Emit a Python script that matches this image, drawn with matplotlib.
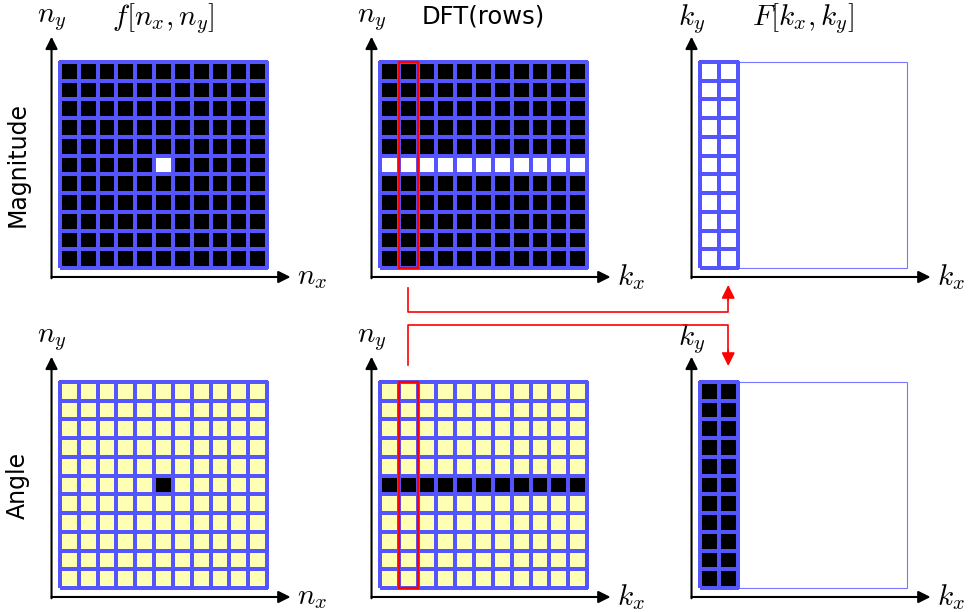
import numpy as np
import matplotlib
matplotlib.use("Agg")
import matplotlib.pyplot as plt
from matplotlib.colors import ListedColormap
from matplotlib.patches import Rectangle

plt.rcParams['mathtext.fontset'] = 'cm'

N = 11
center = 5
picked_col = 1      # column highlighted in DFT(rows)
shown_cols = 2      # columns of F already computed

# magnitude / angle "images" (1 = non-zero)
f_mag = np.zeros((N, N)); f_mag[center, center] = 1
f_ang = np.zeros((N, N)); f_ang[center, center] = 1
rows_mag = np.zeros((N, N)); rows_mag[center, :] = 1
rows_ang = np.zeros((N, N)); rows_ang[center, :] = 1
F_mag = np.ones((N, shown_cols))
F_ang = np.ones((N, shown_cols))

row_labels = ['Magnitude', 'Angle']
titles = [r'$f[n_x,n_y]$', 'DFT(rows)', r'$F[k_x,k_y]$']
x_labels = [r'$n_x$', r'$k_x$', r'$k_x$']
y_labels = [r'$n_y$', r'$n_y$', r'$k_y$']

mag_cmap = ListedColormap(['black', 'white'])
ang_cmap = ListedColormap(['#ffffb3', 'black'])
blue = '#5555ff'

W, H = 968, 612
fig = plt.figure(figsize=(W / 100, H / 100), dpi=100)

grid_x = [60, 380, 700]
grid_y = [62, 382]
gw, gh = 207, 206


def panel(px, py, data, cmap, col, row):
    ax = fig.add_axes([px / W, 1 - (py + gh) / H, gw / W, gh / H])
    ax.set_xlim(0, N)
    ax.set_ylim(0, N)
    ax.axis('off')
    ncols = data.shape[1]
    ax.pcolormesh(np.arange(ncols + 1), np.arange(N + 1), data[::-1], cmap=cmap,
                  vmin=0, vmax=1, edgecolors=blue, linewidth=1.6, clip_on=False)
    if ncols < N:
        ax.add_patch(Rectangle((0, 0), N, N, fill=False, ec=blue, lw=0.8,
                               alpha=0.8, clip_on=False))
    # axes arrows
    ax.annotate('', xy=(12.25, -0.48), xytext=(-0.45, -0.48),
                arrowprops=dict(arrowstyle='-|>', color='black', lw=1.5,
                                mutation_scale=18, shrinkA=0, shrinkB=0),
                annotation_clip=False)
    ax.annotate('', xy=(-0.45, 12.35), xytext=(-0.45, -0.55),
                arrowprops=dict(arrowstyle='-|>', color='black', lw=1.5,
                                mutation_scale=18, shrinkA=0, shrinkB=0),
                annotation_clip=False)
    ax.text(12.6, -0.5, x_labels[col], fontsize=21, ha='left', va='center')
    ax.text(-0.45, 13.3, y_labels[col], fontsize=21, ha='center', va='center')
    if row == 0:
        if col == 1:
            ax.text(5.5, 13.45, titles[col], fontsize=17.5, ha='center', va='center')
        else:
            ax.text(5.5, 13.3, titles[col], fontsize=21, ha='center', va='center')
    if col == 1:
        ax.add_patch(Rectangle((picked_col, 0), 1, N, fill=False, ec='red',
                               lw=1.6, clip_on=False, zorder=5))
    return ax


data = [[f_mag, rows_mag, F_mag], [f_ang, rows_ang, F_ang]]
cmaps = [mag_cmap, ang_cmap]
for r in range(2):
    for c in range(3):
        panel(grid_x[c], grid_y[r], data[r][c], cmaps[r], c, r)
    fig.text(18 / W, 1 - (grid_y[r] + gh / 2) / H, row_labels[r], rotation=90,
             fontsize=17, ha='center', va='center')

# red connectors from DFT(rows) column to F column
ov = fig.add_axes([0, 0, 1, 1])
ov.set_xlim(0, W)
ov.set_ylim(H, 0)
ov.axis('off')
cell = gw / N
xa = grid_x[1] + (picked_col + 0.5) * cell
xb = grid_x[2] + (picked_col + 0.5) * cell
ov.plot([xa, xa, xb, xb], [288, 312, 312, 298], color='red', lw=1.2)
ov.annotate('', xy=(xb, 285), xytext=(xb, 300),
            arrowprops=dict(arrowstyle='-|>', color='red', lw=1.2,
                            mutation_scale=20, shrinkA=0, shrinkB=0))
ov.plot([xa, xa, xb, xb], [365, 325, 325, 352], color='red', lw=1.2)
ov.annotate('', xy=(xb, 366), xytext=(xb, 350),
            arrowprops=dict(arrowstyle='-|>', color='red', lw=1.2,
                            mutation_scale=20, shrinkA=0, shrinkB=0))

fig.savefig('out.png', dpi=100)
